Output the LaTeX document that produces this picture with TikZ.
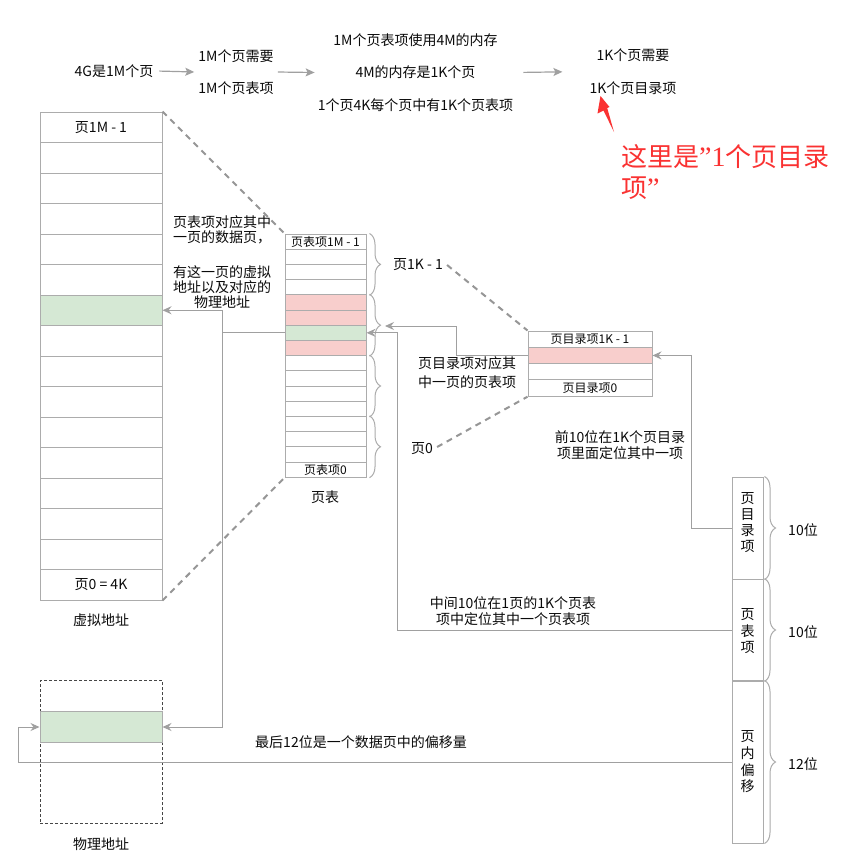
\documentclass[tikz,border=0pt]{standalone}
\usepackage{fontspec}
\setmainfont{Noto Sans CJK SC}
\newfontfamily\qfont{Liberation Serif}
\usetikzlibrary{arrows.meta,decorations.pathreplacing,calc}
\definecolor{pinkc}{RGB}{248,206,204}
\definecolor{greenc}{RGB}{213,232,212}
\definecolor{borderc}{RGB}{172,172,172}
\definecolor{arrc}{RGB}{160,160,160}
\definecolor{dashc}{RGB}{150,150,150}
\definecolor{physc}{RGB}{70,70,70}
\definecolor{redc}{RGB}{250,50,50}
\definecolor{txtc}{RGB}{10,10,10}
\tikzset{
  cell/.style={draw=borderc, line width=1pt, inner sep=0pt},
  vrow/.style={cell, minimum width=122pt, minimum height=30.5pt},
  prow/.style={cell, minimum width=81pt, minimum height=15.2pt},
  drow/.style={cell, minimum width=124pt, minimum height=16.3pt},
  lab/.style={text=txtc, inner sep=0pt, font=\fontsize{14}{16}\selectfont},
  slab/.style={text=txtc, inner sep=0pt, font=\fontsize{12}{14}\selectfont},
  arr/.style={draw=arrc, line width=1pt, -{Stealth[length=9pt,width=8pt,inset=3pt,fill=arrc]}},
  tarr/.style={draw=arrc, line width=1.2pt, -{Stealth[length=9pt,width=8pt,inset=2pt,fill=arrc]}},
  dsh/.style={draw=dashc, line width=2pt, dash pattern=on 6pt off 5pt},
  brc/.style={draw=borderc, line width=1pt, decorate, decoration={brace, amplitude=11pt}},
}
\begin{document}
\begin{tikzpicture}[x=1pt,y=-1pt]
\useasboundingbox (0,0) rectangle (847,860);
\fill[white] (0,0) rectangle (847,860);

% ---- top line of reasoning ----
\node[lab, inner sep=3pt] (t1) at (114,71) {4G是1M个页};
\node[lab, inner sep=3pt, align=center, font=\fontsize{14}{32}\selectfont] (t2) at (236,72) {1M个页需要\\1M个页表项};
\node[lab, inner sep=3pt, align=center, font=\fontsize{14}{32.5}\selectfont] (t3) at (415.5,72.5) {1M个页表项使用4M的内存\\4M的内存是1K个页\\1个页4K每个页中有1K个页表项};
\node[lab, inner sep=3pt, align=center, font=\fontsize{14}{33}\selectfont] (t4) at (633,71.5) {1K个页需要\\1K个页目录项};
\draw[tarr, shorten <=3pt, shorten >=1pt] (t1.east) -- (t2.west);
\draw[tarr, shorten <=1pt, shorten >=0pt] (t2.east) -- (t3.west);
\draw[tarr, shorten <=7pt, shorten >=24pt] (t3.east) -- (t4.west);

% red note
\fill[redc] (600.5,96) -- (609.5,107) -- (607.2,108) -- (614,132) -- (603.5,110.5) -- (597.5,113.5) -- cycle;
\node[text=redc, inner sep=0pt, anchor=west, align=left, font=\fontsize{26}{31}\selectfont] (note) at (621,172.5) {这里是{\qfont\fontsize{28}{31}\selectfont ”1}个页目录\\项{\qfont\fontsize{28}{31}\selectfont ”}};

% ---- virtual address column ----
\foreach \i/\c in {0/white,1/white,2/white,3/white,4/white,5/white,6/greenc,7/white,8/white,9/white,10/white,11/white,12/white,13/white,14/white,15/white}{
  \node[vrow, fill=\c] (vr\i) at (101,{112+30.5*(\i+0.5)}) {};
}
\node[lab] (vtop) at (vr0) {页1M - 1};
\node[lab] (vbot) at (vr15) {页0 = 4K};
\node[lab] (vcap) at (101,620) {虚拟地址};

% ---- page table ----
\foreach \i/\c in {0/white,1/white,2/white,3/white,4/pinkc,5/pinkc,6/greenc,7/pinkc,8/white,9/white,10/white,11/white,12/white,13/white,14/white,15/white}{
  \node[prow, fill=\c] (pr\i) at (325.5,{234+15.2*(\i+0.5)}) {};
}
\node[slab] (ptop) at (pr0) {页表项1M - 1};
\node[slab] (pbot) at (pr15) {页表项0};
\node[lab] (pcap) at (325,497) {页表};
\draw[brc] ($(pr0.north east)+(3,0)$) -- ($(pr3.south east)+(3,0)$);
\draw[brc] ($(pr4.north east)+(3,0)$) -- ($(pr7.south east)+(3,0)$);
\draw[brc] ($(pr8.north east)+(3,0)$) -- ($(pr11.south east)+(3,0)$);
\draw[brc] ($(pr12.north east)+(3,0)$) -- ($(pr15.south east)+(3,0)$);

% ---- page directory ----
\foreach \i/\c in {0/white,1/pinkc,2/white,3/white}{
  \node[drow, fill=\c] (dr\i) at (590,{331+16.3*(\i+0.5)}) {};
}
\node[slab] (dtop) at (dr0) {页目录项1K - 1};
\node[slab] (dbot) at (dr3) {页目录项0};

% ---- physical address ----
\node[draw=physc, line width=1pt, dash pattern=on 3pt off 2pt, minimum width=122pt, minimum height=142.6pt, inner sep=0pt] (phys) at (101,752) {};
\node[cell, fill=greenc, minimum width=122pt, minimum height=30.3pt] (pg) at (101,727) {};
\node[lab] (phcap) at (101,844) {物理地址};

% ---- address bits ----
\node[cell, minimum width=31pt, minimum height=102pt] (b1) at (747.5,528) {};
\node[cell, minimum width=31pt, minimum height=101.7pt] (b2) at (747.5,630) {};
\node[cell, minimum width=31pt, minimum height=162pt] (b3) at (747.5,762) {};
\node[lab, align=center, font=\fontsize{14}{15.7}\selectfont] (b1t) at (747.5,522.5) {页\\目\\录\\项};
\node[lab, align=center, font=\fontsize{14}{16.5}\selectfont] (b2t) at (747.5,631.5) {页\\表\\项};
\node[lab, align=center, font=\fontsize{14}{16.7}\selectfont] (b3t) at (747.5,762) {页\\内\\偏\\移};
\draw[brc] ($(b1.north east)+(1,0)$) -- ($(b1.south east)+(1,0)$);
\draw[brc] ($(b2.north east)+(1,0)$) -- ($(b2.south east)+(1,0)$);
\draw[brc] ($(b3.north east)+(1,0)$) -- ($(b3.south east)+(1,0)$);
\node[lab] (w1) at (803,530) {10位};
\node[lab] (w2) at (803,632) {10位};
\node[lab] (w3) at (803,764) {12位};

% ---- explanatory texts ----
\node[lab, align=center, font=\fontsize{14}{15}\selectfont] (e1) at (222,262) {页表项对应其中\\一页的数据页，\\[20pt]有这一页的虚拟\\地址以及对应的\\物理地址};
\node[lab, align=center, font=\fontsize{14}{18.4}\selectfont] (e2) at (467,372.5) {页目录项对应其\\中一页的页表项};
\node[lab, align=center, font=\fontsize{14}{16.4}\selectfont] (e3) at (620,445) {前10位在1K个页目录\\项里面定位其中一项};
\node[lab, align=center, font=\fontsize{14}{16.6}\selectfont] (e4) at (513,611) {中间10位在1页的1K个页表\\项中定位其中一个页表项};
\node[lab] (e5) at (361,742) {最后12位是一个数据页中的偏移量};
\node[lab] (l1k) at (418,265) {页1K - 1};
\node[lab] (l0) at (422,449) {页0};

% ---- dashed zoom lines ----
\draw[dsh] (vr0.north east) -- (pr0.north west);
\draw[dsh] (vr15.south east) -- (pr15.south west);
\draw[dsh] ($(l1k.east)+(4,0)$) -- (dr0.north west);
\draw[dsh] ($(l0.east)+(4,-2)$) -- (dr3.south west);

% ---- connectors ----
\coordinate (ptin) at (385,326);
\draw[arr] (dr1.west) -- ++(-71,0) |- (ptin);
\draw[arr] (b2.west) -| ($(pr6.east)+(31,0)$) -- (pr6.east);
\draw[arr] (pr6.west) -- ++(-62,0) |- (vr6.east);
\draw[arr] (pr6.west) -- ++(-62,0) |- (pg.east);
\draw[arr] (b1.west) -- ++(-40,0) |- (dr1.east);
\draw[arr] (b3.west) -| ($(pg.west)+(-21,0)$) -- (pg.west);
\end{tikzpicture}
\end{document}
